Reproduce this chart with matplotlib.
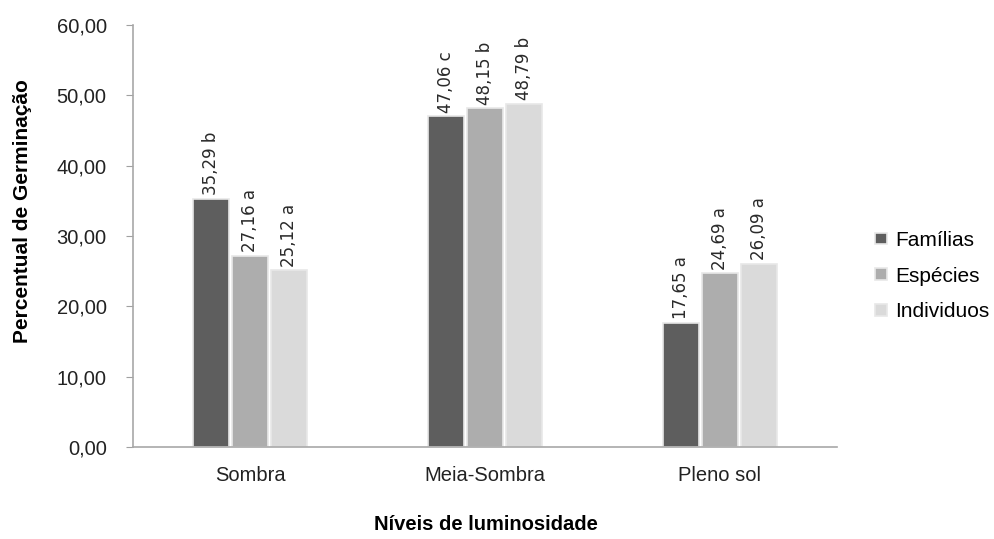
import numpy as np
import matplotlib
matplotlib.use("Agg")
import matplotlib.pyplot as plt

categories = ['Sombra', 'Meia-Sombra', 'Pleno sol']
series = ['Famílias', 'Espécies', 'Individuos']
familias = [35.29, 47.06, 17.65]
especies = [27.16, 48.15, 24.69]
individuos = [25.12, 48.79, 26.09]
letters = [['b', 'c', 'a'], ['a', 'b', 'a'], ['a', 'b', 'a']]
yticks = [0, 10, 20, 30, 40, 50, 60]

colors = ['#5e5e5e', '#adadad', '#dadada']

fig = plt.figure(figsize=(9.95, 5.39), dpi=100)
ax = fig.add_axes([0.1337, 0.1707, 0.7075, 0.7829])

x = np.arange(len(categories))
width = 0.153
step = 0.166
values = [familias, especies, individuos]
for i, (vals, c) in enumerate(zip(values, colors)):
    pos = x + (i - 1) * step
    ax.bar(pos, vals, width, color=c, edgecolor='#e8e8e8', linewidth=1.2, label=series[i], zorder=2)
    for p, v, l in zip(pos, vals, letters[i]):
        txt = ('%.2f' % v).replace('.', ',') + ' ' + l
        ax.text(p, v + 0.5, txt, rotation=90, ha='center', va='bottom',
                fontsize=12, family='DejaVu Sans', color='#2a2a2a')

ax.set_xlim(-0.5, 2.5)
ax.set_ylim(0, 60)
ax.set_yticks(yticks)
ax.set_yticklabels([('%.2f' % t).replace('.', ',') for t in yticks],
                   fontsize=14.5, family='Liberation Sans', color='#222222')
ax.set_xticks(x)
ax.set_xticklabels(categories, fontsize=14.5, family='Liberation Sans', color='#222222')
ax.tick_params(axis='x', length=0, pad=14)
ax.tick_params(axis='y', length=5, color='#a0a0a0', pad=14)

for s in ['top', 'right']:
    ax.spines[s].set_visible(False)
for s in ['left', 'bottom']:
    ax.spines[s].set_color('#a8a8a8')
    ax.spines[s].set_linewidth(1.2)

ax.set_ylabel('Percentual de Germinação', fontsize=15, family='Liberation Sans',
              fontweight='bold')
ax.yaxis.set_label_coords(-0.143, 0.559)
fig.text(0.488, 1 - 525 / 539, 'Níveis de luminosidade', fontsize=14.5,
         family='Liberation Sans', fontweight='bold', ha='center', va='center')

leg = ax.legend(loc='center left', bbox_to_anchor=(1.028, 0.405), frameon=False,
                prop={'family': 'Liberation Sans', 'size': 15},
                handlelength=0.55, handleheight=0.5, handletextpad=0.4, labelspacing=0.8)

fig.savefig('out.png', dpi=100)
